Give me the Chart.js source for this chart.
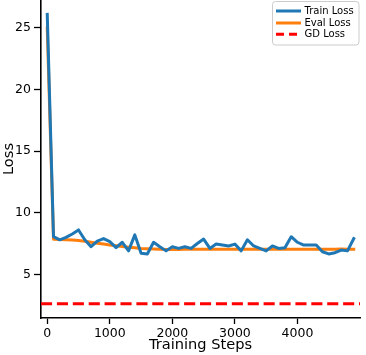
<!DOCTYPE html>
<html>
<head>
<meta charset="utf-8">
<script src="https://cdn.jsdelivr.net/npm/chart.js@4/dist/chart.umd.min.js"></script>
<style>
html,body{margin:0;padding:0;background:#fff;}
canvas{display:block;}
</style>
</head>
<body>
<canvas id="c" width="366" height="355"></canvas>
<script>
const steps = [0,100,200,300,400,500,600,700,800,900,1000,1100,1200,1300,1400,1500,1600,1700,1800,1900,2000,2100,2200,2300,2400,2500,2600,2700,2800,2900,3000,3100,3200,3300,3400,3500,3600,3700,3800,3900,4000,4100,4200,4300,4400,4500,4600,4700,4800,4900];
const trainLoss = [26.1,8.05,7.8,8.0,8.27,8.6,7.8,7.24,7.7,7.9,7.65,7.16,7.6,6.9,8.2,6.7,6.65,7.6,7.24,6.9,7.24,7.1,7.24,7.1,7.5,7.86,7.1,7.45,7.37,7.3,7.45,6.9,7.8,7.3,7.1,6.9,7.3,7.1,7.16,8.05,7.6,7.37,7.37,7.37,6.83,6.65,6.75,6.97,6.9,7.9];
const evalLoss = [25.0,7.84,7.82,7.8,7.78,7.74,7.68,7.6,7.52,7.45,7.38,7.32,7.26,7.2,7.15,7.1,7.07,7.05,7.03,7.02,7.02,7.02,7.03,7.03,7.03,7.03,7.03,7.03,7.03,7.03,7.03,7.03,7.03,7.03,7.03,7.03,7.03,7.03,7.03,7.03,7.03,7.03,7.03,7.03,7.03,7.03,7.04,7.05,7.04,7.03];
const gdLoss = 2.6;
const xTicks = [0,1000,2000,3000,4000];
const yTicks = [5,10,15,20,25];
const seriesLabels = ['Train Loss','Eval Loss','GD Loss'];

const FONT = "'DejaVu Sans', sans-serif";

const legendPlugin = {
  id: 'insideLegend',
  afterDatasetsDraw(chart) {
    const ctx = chart.ctx;
    const x0 = 272.5, y0 = 1.5, w = 86.5, h = 43.5;
    ctx.save();
    ctx.fillStyle = 'rgba(255,255,255,0.8)';
    ctx.strokeStyle = '#cccccc';
    ctx.lineWidth = 1;
    ctx.beginPath();
    if (ctx.roundRect) ctx.roundRect(x0, y0, w, h, 3); else ctx.rect(x0, y0, w, h);
    ctx.fill();
    ctx.stroke();
    const rows = [11, 23, 34.3];
    chart.data.datasets.forEach((ds, i) => {
      const y = rows[i];
      ctx.strokeStyle = ds.borderColor;
      ctx.lineWidth = 3;
      ctx.setLineDash(ds.borderDash && ds.borderDash.length ? [8, 5] : []);
      ctx.lineCap = 'butt';
      ctx.beginPath();
      ctx.moveTo(276, y);
      ctx.lineTo(301, y);
      ctx.stroke();
      ctx.setLineDash([]);
      ctx.fillStyle = '#000';
      ctx.font = '10px ' + FONT;
      ctx.textBaseline = 'middle';
      ctx.textAlign = 'left';
      ctx.fillText(ds.label, 304.5, y + 0.5);
    });
    ctx.restore();
  }
};

const mk = (arr) => steps.map((s, i) => ({x: s, y: arr[i]}));

new Chart(document.getElementById('c'), {
  type: 'line',
  data: {
    datasets: [
      {label: seriesLabels[0], data: mk(trainLoss), borderColor: '#1f77b4', borderWidth: 3, pointRadius: 0, tension: 0, borderJoinStyle: 'round', borderCapStyle: 'square', fill: false},
      {label: seriesLabels[1], data: mk(evalLoss), borderColor: '#ff7f0e', borderWidth: 3, pointRadius: 0, tension: 0, borderJoinStyle: 'round', borderCapStyle: 'square', fill: false},
      {label: seriesLabels[2], data: [{x: -100, y: gdLoss}, {x: 5000, y: gdLoss}], borderColor: '#ff0000', borderWidth: 3, borderDash: [11.1, 4.8], pointRadius: 0, tension: 0, fill: false}
    ]
  },
  options: {
    responsive: false,
    animation: false,
    devicePixelRatio: 1,
    layout: {padding: {left: 0, right: 6, top: 0, bottom: 0}},
    plugins: {legend: {display: false}, tooltip: {enabled: false}},
    scales: {
      x: {
        type: 'linear',
        min: -100, max: 5000,
        afterBuildTicks: s => { s.ticks = xTicks.map(v => ({value: v})); },
        afterFit: s => { s.height = 37; s.paddingLeft = 0; s.paddingRight = 0; },
        ticks: {color: '#000', font: {family: FONT, size: 12.5}, padding: 2, maxRotation: 0, autoSkip: false, callback: v => String(v)},
        grid: {display: true, drawOnChartArea: false, drawTicks: true, tickLength: 6, tickWidth: 1.3, tickColor: '#000', color: '#000'},
        border: {display: true, color: '#000', width: 1.6},
        title: {display: true, text: 'Training Steps', color: '#000', font: {family: FONT, size: 14.6}, padding: {top: 0, bottom: 1}}
      },
      y: {
        type: 'linear',
        min: 1.45, max: 27.27,
        afterBuildTicks: s => { s.ticks = yTicks.map(v => ({value: v})); },
        afterFit: s => { s.width = 41; s.paddingTop = 0; s.paddingBottom = 0; },
        ticks: {color: '#000', font: {family: FONT, size: 12.5}, padding: 3, callback: v => String(v)},
        grid: {display: true, drawOnChartArea: false, drawTicks: true, tickLength: 7, tickWidth: 1.3, tickColor: '#000', color: '#000'},
        border: {display: true, color: '#000', width: 1.6},
        title: {display: true, text: 'Loss', color: '#000', font: {family: FONT, size: 14.6}, padding: {top: 0, bottom: 0}}
      }
    }
  },
  plugins: [legendPlugin]
});
</script>
</body>
</html>
